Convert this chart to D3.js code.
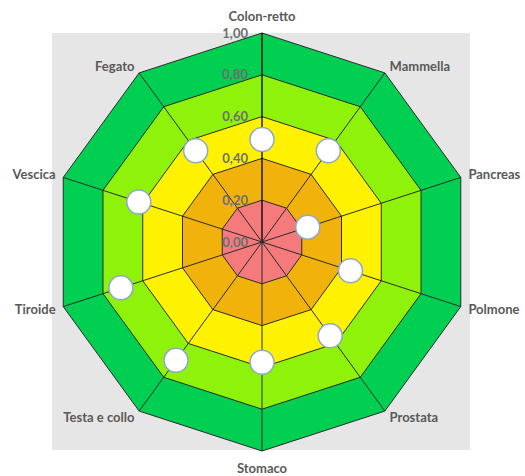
<!DOCTYPE html>
<html><head><meta charset="utf-8">
<script src="https://cdn.jsdelivr.net/npm/d3@7"></script>
<style>html,body{margin:0;padding:0;background:#fff;}svg{display:block;}</style>
</head><body>
<svg id="chart" width="525" height="476"></svg>
<script>
const categories = ["Colon-retto","Mammella","Pancreas","Polmone","Prostata","Stomaco","Testa e collo","Tiroide","Vescica","Fegato"];
const values = [0.49, 0.54, 0.23, 0.445, 0.555, 0.575, 0.70, 0.71, 0.62, 0.54];
const bandLevels = [1.0, 0.8, 0.6, 0.4, 0.2];
const bandColors = ["#00CF52", "#8FF20A", "#FFF200", "#F2B20C", "#F47A7C"];
const tickValues = [0, 0.2, 0.4, 0.6, 0.8, 1.0];
const tickLabels = ["0,00","0,20","0,40","0,60","0,80","1,00"];

const svg = d3.select("#chart");
const cx = 262, cy = 242, R = 209;
const r = d3.scaleLinear().domain([0, 1]).range([0, R]);
const ang = d3.scaleLinear().domain([0, categories.length]).range([0, 2*Math.PI]);
const pt = (i, v) => [cx + r(v)*Math.sin(ang(i)), cy - r(v)*Math.cos(ang(i))];

// plot area background
svg.append("rect").attr("x", 52).attr("y", 33).attr("width", 418).attr("height", 417).attr("fill", "#E6E6E6");

const line = d3.line().curve(d3.curveLinearClosed);
// bands
svg.append("g").selectAll("path").data(bandLevels).join("path")
  .attr("d", lv => line(categories.map((c, i) => pt(i, lv))))
  .attr("fill", (d, i) => bandColors[i])
  .attr("stroke", "#2a2a2a").attr("stroke-width", 1);

// spokes
svg.append("g").selectAll("line").data(categories).join("line")
  .attr("x1", cx).attr("y1", cy)
  .attr("x2", (d, i) => pt(i, 1)[0]).attr("y2", (d, i) => pt(i, 1)[1])
  .attr("stroke", (d, i) => i === 0 ? "#000" : "#2a2a2a")
  .attr("stroke-width", (d, i) => i === 0 ? 1.3 : 1);

// tick labels
svg.append("g").selectAll("text").data(tickValues).join("text")
  .attr("x", cx - 14).attr("y", v => cy - r(v))
  .attr("dy", "0.35em").attr("text-anchor", "end")
  .attr("font-family", "Lato, 'Open Sans', sans-serif").attr("font-size", 13).attr("font-weight", 700)
  .attr("fill", "#6E6E6E")
  .text((v, i) => tickLabels[i]);

// category labels
svg.append("g").selectAll("text").data(categories).join("text")
  .each(function(c, i) {
    const s = Math.sin(ang(i)), co = Math.cos(ang(i));
    const [vx, vy] = pt(i, 1);
    const t = d3.select(this);
    let x = vx + s*8, y = vy - co*8;
    let anchor = "middle";
    if (s > 0.1) anchor = "start"; else if (s < -0.1) anchor = "end";
    else y += co > 0 ? -9 : 9;
    t.attr("x", x).attr("y", y).attr("dy", "0.35em").attr("text-anchor", anchor);
  })
  .attr("font-family", "Lato, 'Open Sans', sans-serif").attr("font-size", 13).attr("font-weight", 700)
  .attr("fill", "#595959")
  .text(c => c);

// markers
svg.append("g").selectAll("circle").data(values).join("circle")
  .attr("cx", (v, i) => pt(i, v)[0]).attr("cy", (v, i) => pt(i, v)[1])
  .attr("r", 12).attr("fill", "#FFFFFF").attr("stroke", "#8EA8C8").attr("stroke-width", 1.5);
</script>
</body></html>
